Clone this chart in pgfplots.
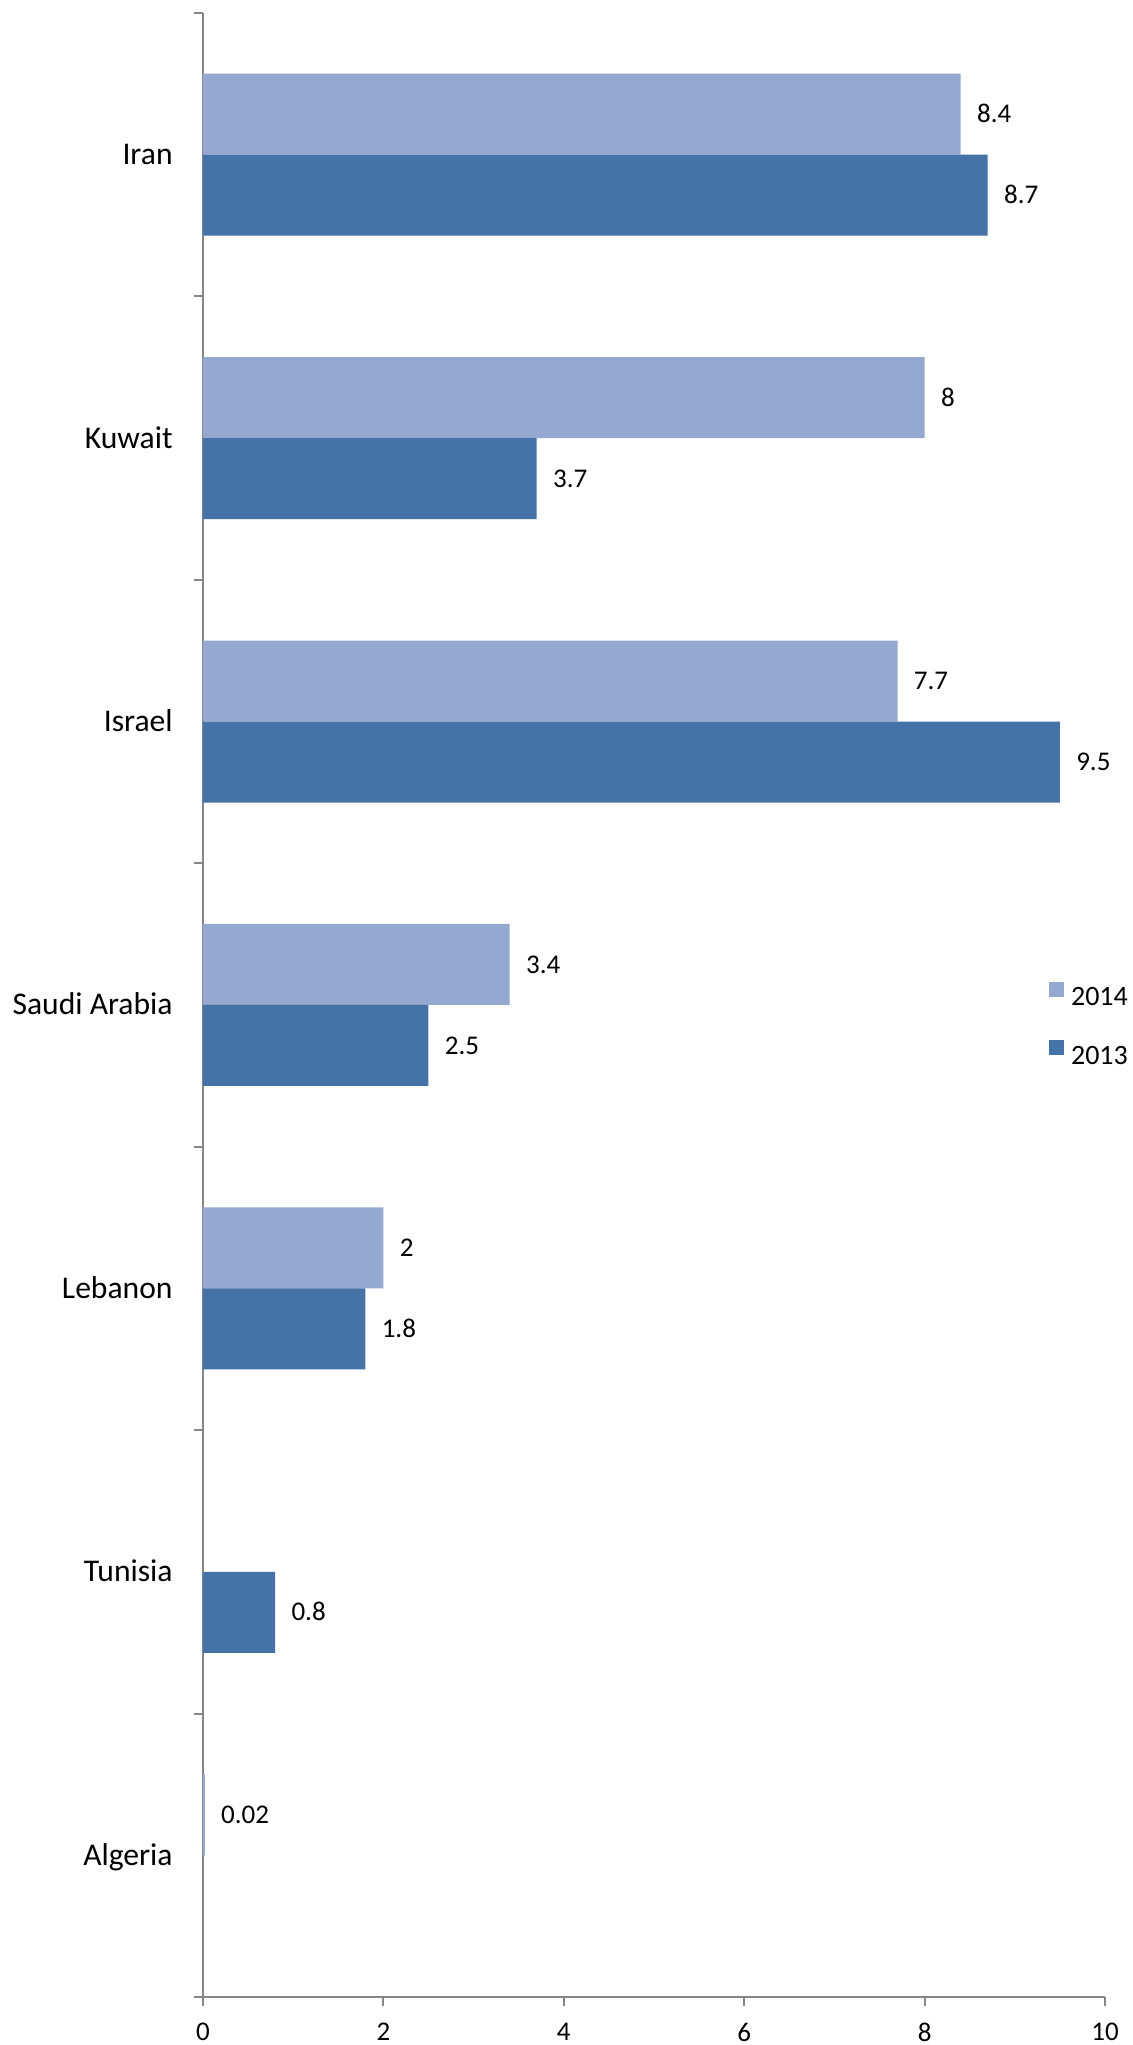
\documentclass[border=0pt]{standalone}
\usepackage{fontspec}
\setmainfont{Carlito}
\usepackage{pgfplots}
\pgfplotsset{compat=1.18}
\definecolor{c14}{RGB}{149,169,208}
\definecolor{c13}{RGB}{69,114,167}
\definecolor{axgray}{RGB}{134,134,134}
\begin{document}
\begin{tikzpicture}
\path[use as bounding box] (-101.5pt,-24pt) rectangle (464.5pt,998.5pt);
\begin{axis}[
  at={(0pt,0pt)}, anchor=south west,
  scale only axis, width=451pt, height=992pt,
  xmin=0, xmax=10, ymin=-0.5, ymax=6.5,
  enlargelimits=false,
  axis lines=left,
  axis line style={-, draw=axgray, line width=1pt},
  xtick={0,2,...,10},
  minor xtick={0,2,...,10},
  ytick={0,...,6},
  yticklabels={Algeria,Tunisia,Lebanon,Saudi Arabia,Israel,Kuwait,Iran},
  minor ytick={-0.5,0.5,...,6.5},
  major tick length=0pt,
  minor tick length=4.5pt,
  tick align=outside,
  tick style={draw=axgray, line width=1pt},
  xticklabel style={font=\fontsize{13.5}{16}\selectfont, anchor=north, inner sep=0pt, yshift=-12.75pt},
  yticklabel style={font=\fontsize{15.8}{18}\selectfont, anchor=base east, inner sep=0pt, xshift=-15pt, yshift=-5pt},
  /pgf/number format/assume math mode=true,
  xbar, bar width=40.5pt,
  point meta=explicit symbolic,
  nodes near coords,
  every node near coord/.append style={font=\fontsize{13.5}{16}\selectfont, anchor=base west, inner sep=0pt, xshift=8pt, yshift=-4.3pt, text=black},
  legend style={at={(0.938,0.4902)}, anchor=west, draw=none, fill=none, inner sep=0pt, outer sep=0pt, row sep=15.65pt, column sep=3.5pt, font=\fontsize{14}{16}\selectfont, nodes={inner sep=0pt}},
  legend cell align=left,
  legend image code/.code={\fill (0pt,0.67pt) rectangle (7.5pt,8.17pt);},
]
\addplot[fill=c14, draw=none, bar shift=20.25pt] coordinates {(8.4,6)[8.4] (8,5)[8] (7.7,4)[7.7] (3.4,3)[3.4] (2,2)[2] (0.02,0)[0.02]};
\addplot[fill=c13, draw=none, bar shift=-20.25pt] coordinates {(8.7,6)[8.7] (3.7,5)[3.7] (9.5,4)[9.5] (2.5,3)[2.5] (1.8,2)[1.8] (0.8,1)[0.8]};
\legend{2014,2013}
\end{axis}
\end{tikzpicture}
\end{document}
